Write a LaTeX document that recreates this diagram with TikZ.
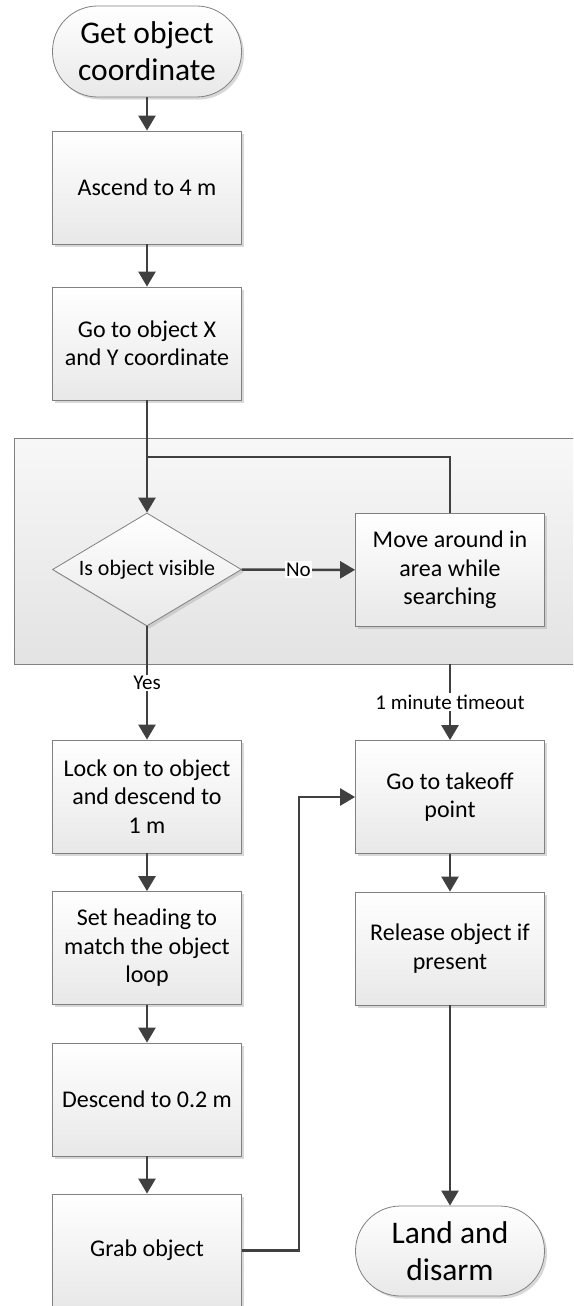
\documentclass[tikz,border=0pt]{standalone}
\usepackage{fontspec}
\setmainfont{Carlito}
\usetikzlibrary{shapes,arrows.meta,positioning,shadows,calc}
\definecolor{flowline}{RGB}{64, 64, 64}
\definecolor{boxedge}{RGB}{128, 128, 128}

\begin{document}
\begin{tikzpicture}[x=1pt, y=-1pt, >={Triangle[width=17pt, length=15pt]},
        boxshade/.style={draw=boxedge, line width=0.8pt, top color=white, bottom color=black!9,
            drop shadow={shadow xshift=2.5pt, shadow yshift=-2.5pt, fill=black!30, opacity=0.5}},
        stepbox/.style={rectangle, boxshade, minimum width=189pt, minimum height=113pt, inner sep=0pt,
            font=\fontsize{24}{28.5}\selectfont, align=center},
        decision/.style={diamond, boxshade, minimum width=189pt, minimum height=113pt, inner sep=0pt,
            aspect=1.67, font=\fontsize{22}{28.5}\selectfont, align=center},
        terminal/.style={rectangle, rounded corners=45pt, boxshade, minimum width=189pt, minimum height=91pt,
            inner sep=0pt, font=\fontsize{31.5}{37}\selectfont, align=center},
        groupbox/.style={rectangle, draw=boxedge, line width=0.8pt, top color=black!3, bottom color=black!11},
        flow/.style={draw=flowline, line width=2.5pt},
        flowlabel/.style={font=\fontsize{21}{24}\selectfont, fill=white, inner sep=1.5pt}]
        \useasboundingbox (0,0) rectangle (573,1306);
        \clip (0,0) rectangle (573,1306);

        % Search area
        \node[groupbox, minimum width=570pt, minimum height=226pt] (searcharea) at (299,551) {};

        % Left column
        \node[terminal] (start) at (147,51.5) {Get object\\coordinate};
        \node[stepbox] (ascend) at (147,187.5) {Ascend to 4 m};
        \node[stepbox] (goxy) at (147,343.5) {Go to object X\\and Y coordinate};
        \coordinate (join) at (147,457);
        \node[decision] (test) at (147,569.5) {Is object visible};
        \node[stepbox] (search) at (450,570) {Move around in\\area while\\searching};
        \node[stepbox] (lock) at (147,796.5) {Lock on to object\\and descend to\\1 m};
        \node[stepbox] (heading) at (147,948) {Set heading to\\match the object\\loop};
        \node[stepbox] (descend) at (147,1099.5) {Descend to 0.2 m};
        \node[stepbox] (grab) at (147,1250.5) {Grab object};

        % Right column
        \node[stepbox] (takeoff) at (450,797) {Go to takeoff\\point};
        \node[stepbox] (release) at (450,948.5) {Release object if\\present};
        \node[terminal, minimum height=90pt] (land) at (450,1251) {Land and\\disarm};

        % Connectors
        \draw[flow, ->] (start) -- (ascend);
        \draw[flow, ->] (ascend) -- (goxy);
        \draw[flow, ->] (goxy) -- (test);
        \draw[flow] (search) |- (join);
        \draw[flow, ->] (test) -- node[flowlabel] {No} (search);
        \draw[flow, ->] (test) -- node[flowlabel] {Yes} (lock);
        \draw[flow, ->] (takeoff |- searcharea.south) -- node[flowlabel] {1 minute timeout} (takeoff);
        \draw[flow, ->] (lock) -- (heading);
        \draw[flow, ->] (heading) -- (descend);
        \draw[flow, ->] (descend) -- (grab);
        \draw[flow, ->] (grab.east) -- ++(57,0) |- (takeoff.west);
        \draw[flow, ->] (takeoff) -- (release);
        \draw[flow, ->] (release) -- (land);
\end{tikzpicture}
\end{document}
